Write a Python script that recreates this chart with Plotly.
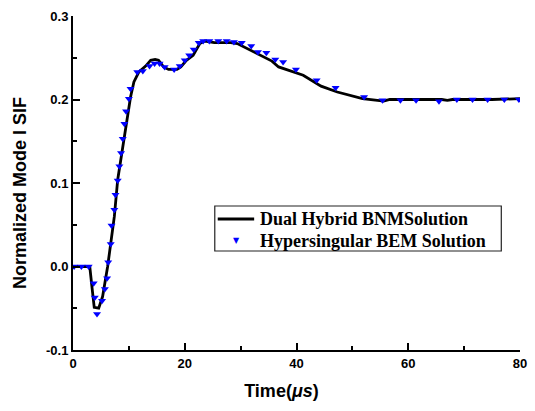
import plotly.graph_objects as go

# Dual Hybrid BNM solution (line)
line_t = [0, 3.0, 3.4, 3.8, 4.6, 5.3, 6.2, 6.9, 7.4, 8.0, 8.9, 9.75, 10.3, 10.9, 11.8,
          13.0, 13.9, 14.7, 15.3, 16.2, 17.1, 18.6, 19.3, 20.3, 21.5, 22.7, 23.6, 25.3,
          28.2, 29.4, 31.8, 33.8, 35.6, 36.8, 41.2, 44.4, 47.3, 51.8, 55.6, 56.7, 66.0,
          67.0, 67.9, 75.0, 80.0]
line_v = [0, 0, -0.025, -0.049, -0.050, -0.036, 0.0, 0.032, 0.060, 0.104, 0.143, 0.179,
          0.203, 0.221, 0.233, 0.240, 0.247, 0.248, 0.247, 0.239, 0.236, 0.236, 0.239,
          0.247, 0.253, 0.267, 0.270, 0.268, 0.268, 0.267, 0.259, 0.252, 0.246, 0.239,
          0.229, 0.216, 0.209, 0.201, 0.198, 0.200, 0.200, 0.199, 0.200, 0.200, 0.201]

# Hypersingular BEM solution (markers)
bem_t = [0.2, 1.5, 2.8, 3.7, 3.9, 4.3, 5.2, 5.7, 6.1, 6.3, 6.75, 6.9, 7.4, 7.6, 8.0, 8.3,
         8.6, 8.9, 9.2, 9.5, 10.0, 10.3, 11.5, 12.5, 13.7, 14.6, 15.5, 16.4, 18.1, 19.1,
         20.0, 20.8, 21.6, 22.5, 23.3, 24.4, 26.0, 27.5, 28.8, 30.2, 31.9, 33.1, 34.6,
         36.2, 37.6, 39.9, 43.6, 47.0, 52.1, 55.4, 58.6, 61.4, 65.5, 68.7, 71.5, 74.2,
         77.2, 79.8]
bem_v = [0, 0, 0, -0.020, -0.037, -0.057, -0.041, -0.027, -0.014, 0.005, 0.027, 0.049,
         0.068, 0.086, 0.103, 0.120, 0.136, 0.153, 0.171, 0.186, 0.201, 0.213, 0.233,
         0.234, 0.240, 0.243, 0.243, 0.239, 0.236, 0.240, 0.247, 0.253, 0.260, 0.268,
         0.270, 0.270, 0.270, 0.270, 0.269, 0.268, 0.264, 0.257, 0.256, 0.248, 0.245,
         0.236, 0.223, 0.214, 0.203, 0.199, 0.199, 0.199, 0.198, 0.200, 0.200, 0.200,
         0.200, 0.200]

series_names = ["Dual Hybrid BNMSolution", "Hypersingular BEM Solution"]

x_ticks = [0, 20, 40, 60, 80]
x_ticktext = ["0", "20", "40", "60", "80"]
x_minor = [10, 30, 50, 70]
y_ticks = [-0.1, 0.0, 0.1, 0.2, 0.3]
y_ticktext = ["-0.1", "0.0", "0.1", "0.2", "0.3"]
y_minor = [-0.05, 0.05, 0.15, 0.25]

SANS = "Liberation Sans, Arial"
SERIF = "Liberation Serif, Times New Roman"

fig = go.Figure()
fig.add_trace(go.Scatter(x=line_t, y=line_v, mode="lines", name=series_names[0],
                         line=dict(color="black", width=2.8)))
fig.add_trace(go.Scatter(x=bem_t, y=bem_v, mode="markers", name=series_names[1],
                         marker=dict(symbol="triangle-down", color="#0000FF", size=7)))

tickfont = dict(family=SANS, size=13, color="black")

# plot area: x 73..527 px, y 16..350 px
def px_x(p):
    return (p - 73) / 454.0

def px_y(p):
    return (350 - p) / 334.0

fig.update_layout(
    width=535, height=411,
    margin=dict(l=73, r=8, t=16, b=61),
    paper_bgcolor="white", plot_bgcolor="white",
    showlegend=False,
    xaxis=dict(range=[0, 80], tickmode="array", tickvals=x_ticks,
               ticktext=["<b>%s</b>" % t for t in x_ticktext],
               showgrid=False, zeroline=False,
               showline=True, linecolor="black", linewidth=2,
               ticks="inside", ticklen=7, tickwidth=2, tickcolor="black",
               minor=dict(tickmode="array", tickvals=x_minor, ticks="inside", ticklen=4,
                          tickwidth=2, tickcolor="black", showgrid=False),
               tickfont=tickfont,
               title=dict(text="<b>Time(<i>μs</i>)</b>" + "&nbsp;" * 6,
                          font=dict(family=SANS, size=18, color="black"))),
    yaxis=dict(range=[-0.1, 0.3], tickmode="array", tickvals=y_ticks,
               ticktext=["<b>%s</b>" % t for t in y_ticktext],
               showgrid=False, zeroline=False,
               showline=True, linecolor="black", linewidth=2,
               ticks="inside", ticklen=7, tickwidth=2, tickcolor="black",
               minor=dict(tickmode="array", tickvals=y_minor, ticks="inside", ticklen=4,
                          tickwidth=2, tickcolor="black", showgrid=False),
               tickfont=tickfont,
               title=dict(text="<b>Normalized Mode I SIF</b>" + "&nbsp;" * 4,
                          font=dict(family=SANS, size=18, color="black"))),
)

# legend box, built from a frame, a line sample, a marker sample and the series names
fig.add_shape(type="rect", xref="paper", yref="paper",
              x0=px_x(217), x1=px_x(508), y0=px_y(251), y1=px_y(206),
              line=dict(color="#222222", width=1.2), fillcolor="white", layer="above")
fig.add_shape(type="line", xref="paper", yref="paper",
              x0=px_x(220), x1=px_x(257), y0=px_y(219), y1=px_y(219),
              line=dict(color="black", width=2.8), layer="above")
fig.add_annotation(xref="paper", yref="paper", x=px_x(239), y=px_y(241),
                   text="▼", showarrow=False, xanchor="center", yanchor="middle",
                   font=dict(family="DejaVu Sans", size=8, color="#0000FF"))
for i, name in enumerate(series_names):
    fig.add_annotation(xref="paper", yref="paper", x=px_x(261), y=px_y(219 + 22 * i),
                       text="<b>%s</b>" % name, showarrow=False,
                       xanchor="left", yanchor="middle",
                       font=dict(family=SERIF, size=18, color="black"))

fig.write_html("out.html")
